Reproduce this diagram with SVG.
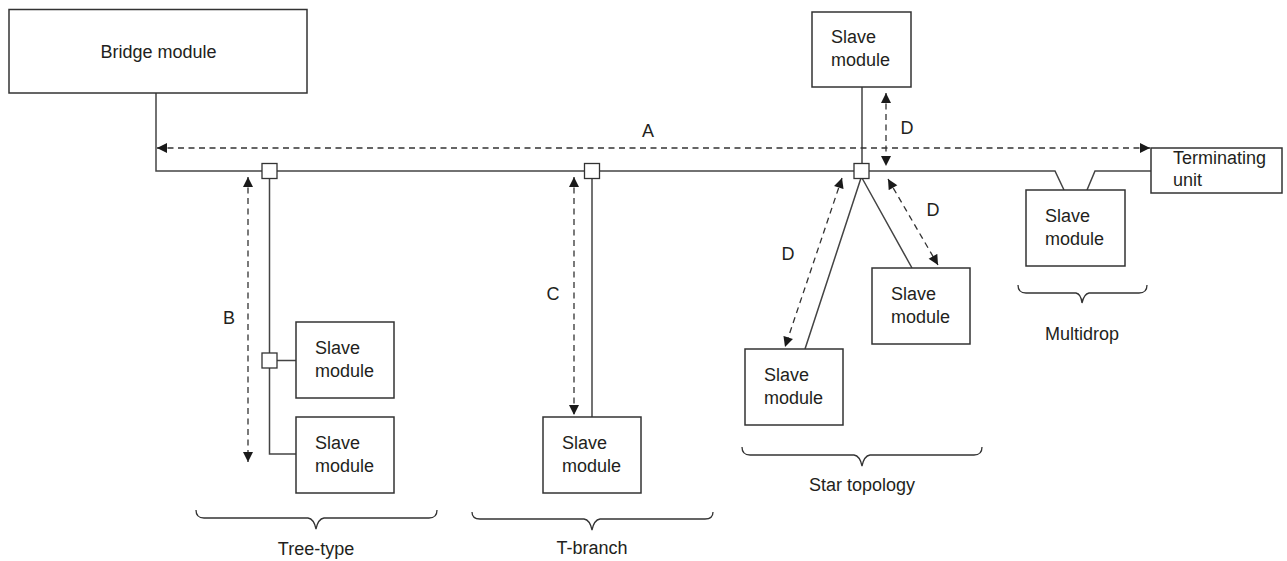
<svg xmlns="http://www.w3.org/2000/svg" width="1287" height="561" viewBox="0 0 1287 561">
<style>
.box{fill:#fff;stroke:#333;stroke-width:1.5}
.ln{fill:none;stroke:#444;stroke-width:1.5}
.dash{fill:none;stroke:#333;stroke-width:1.3;stroke-dasharray:6 4.5}
.sq{fill:#fff;stroke:#333;stroke-width:1.3}
.br{fill:none;stroke:#333;stroke-width:1.3}
text{font-family:"Liberation Sans",Arial,sans-serif;font-size:18px;fill:#231f20}
.c{text-anchor:middle}
</style>
<defs>
<marker id="ah" markerUnits="userSpaceOnUse" markerWidth="11" markerHeight="10" refX="10" refY="5" orient="auto-start-reverse" viewBox="0 0 10 10">
<path d="M0,0 L10,5 L0,10 z" fill="#1a1a1a"/>
</marker>
</defs>
<g id="connectors">
<path class="ln" d="M156,93 V171 H1055 L1064,190 M1087,190 L1095,171 H1151"/>
<path class="ln" d="M269.5,178 V454 H296 M277,360.5 H296"/>
<path class="ln" d="M592,178 V417"/>
<path class="ln" d="M862,87 V163 M861,178 L805,349 M862,178 L912,268"/>
<path class="dash" d="M157,148 H1150" marker-start="url(#ah)" marker-end="url(#ah)"/>
<path class="dash" d="M248,177 V462" marker-start="url(#ah)" marker-end="url(#ah)"/>
<path class="dash" d="M574,177 V415" marker-start="url(#ah)" marker-end="url(#ah)"/>
<path class="dash" d="M886,93 V166" marker-start="url(#ah)" marker-end="url(#ah)"/>
<path class="dash" d="M842,178 L785,347" marker-start="url(#ah)" marker-end="url(#ah)"/>
<path class="dash" d="M888,179 L938,265" marker-start="url(#ah)" marker-end="url(#ah)"/>
<text x="648" y="137" class="c">A</text>
<text x="229" y="324" class="c">B</text>
<text x="553" y="300" class="c">C</text>
<text x="907" y="134" class="c">D</text>
<text x="788" y="260" class="c">D</text>
<text x="933" y="216" class="c">D</text>
</g>
<g id="junctions">
<rect class="sq" x="262" y="163.5" width="15" height="15"/>
<rect class="sq" x="584.5" y="163.5" width="15" height="15"/>
<rect class="sq" x="854" y="163.5" width="15" height="15"/>
<rect class="sq" x="262" y="353" width="15" height="15"/>
</g>
<g id="bridge">
<rect class="box" x="9" y="9.5" width="298" height="83.5"/>
<text x="158.5" y="58" class="c">Bridge module</text>
</g>
<g id="tree-slave1">
<rect class="box" x="296" y="322" width="98" height="76"/>
<text x="315" y="354">Slave</text><text x="315" y="377">module</text>
</g>
<g id="tree-slave2">
<rect class="box" x="296" y="417" width="98" height="76"/>
<text x="315" y="449">Slave</text><text x="315" y="472">module</text>
</g>
<g id="tbranch-slave">
<rect class="box" x="543" y="417" width="98" height="76"/>
<text x="562" y="449">Slave</text><text x="562" y="472">module</text>
</g>
<g id="star-slave-top">
<rect class="box" x="812" y="12" width="99" height="75"/>
<text x="831" y="43">Slave</text><text x="831" y="66">module</text>
</g>
<g id="star-slave-left">
<rect class="box" x="745" y="349" width="98" height="76"/>
<text x="764" y="381">Slave</text><text x="764" y="404">module</text>
</g>
<g id="star-slave-right">
<rect class="box" x="872" y="268" width="98" height="76"/>
<text x="891" y="300">Slave</text><text x="891" y="323">module</text>
</g>
<g id="multidrop-slave">
<rect class="box" x="1026" y="190" width="99" height="76"/>
<text x="1045" y="222">Slave</text><text x="1045" y="245">module</text>
</g>
<g id="terminating">
<rect class="box" x="1151" y="148" width="131" height="45"/>
<text x="1173" y="164">Terminating</text><text x="1173" y="186">unit</text>
</g>
<g id="braces">
<path class="br" d="M196,510 Q196,518 204,518 H308 Q314,519 316,529 Q318,519 324,518 H429 Q437,518 437,510"/>
<text x="316" y="555" class="c">Tree-type</text>
<path class="br" d="M472,512 Q472,519 480,519 H584 Q590,520 592,530 Q594,520 600,519 H705 Q713,519 713,512"/>
<text x="592" y="554" class="c">T-branch</text>
<path class="br" d="M742,447 Q742,455 750,455 H854 Q860,456 862,466 Q864,456 870,455 H974 Q982,455 982,447"/>
<text x="862" y="491" class="c">Star topology</text>
<path class="br" d="M1018,285 Q1018,293 1026,293 H1076 Q1081,294 1082,303 Q1084,294 1089,293 H1139 Q1147,293 1147,285"/>
<text x="1082" y="340" class="c">Multidrop</text>
</g>
</svg>
